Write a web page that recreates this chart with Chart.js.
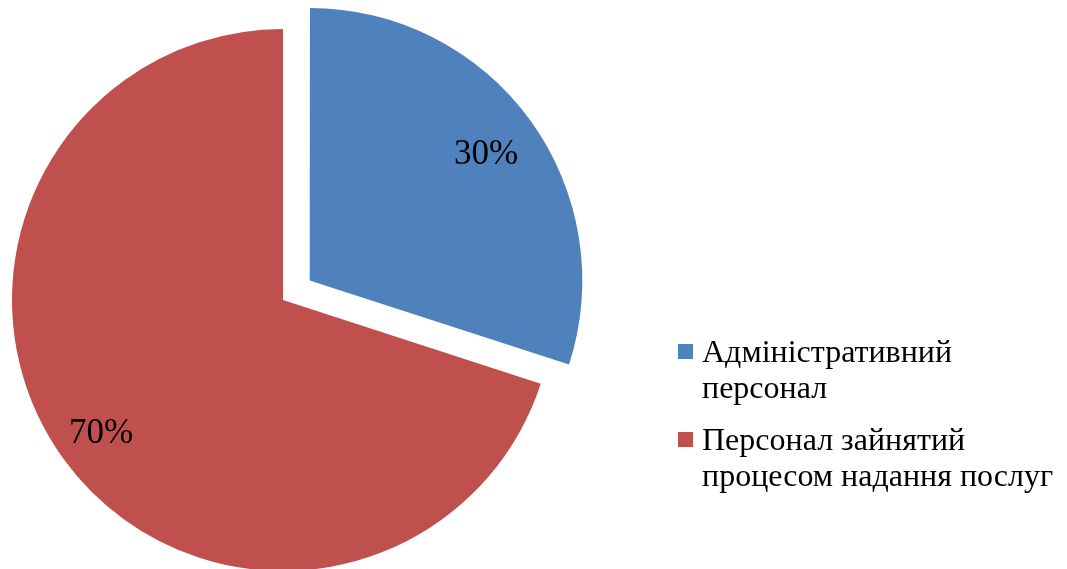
<!DOCTYPE html>
<html>
<head>
<meta charset="utf-8">
<script src="https://cdn.jsdelivr.net/npm/chart.js@4.4.1/dist/chart.umd.min.js"></script>
<style>
  html, body { margin: 0; padding: 0; background: #fff; }
  #wrap { position: relative; width: 1067px; height: 569px; overflow: hidden; }
  #c { position: absolute; left: 0; top: 0; }
  #legend { position: absolute; left: 678px; top: 333px; font-family: 'Liberation Serif', 'Times New Roman', serif; font-size: 32px; color: #000; white-space: nowrap; }
  .item { position: relative; padding-left: 24px; line-height: 36px; margin-bottom: 16px; }
  .box { position: absolute; left: 0; top: 11px; width: 15px; height: 15px; }
</style>
</head>
<body>
<div id="wrap">
  <canvas id="c" width="1067" height="569"></canvas>
  <div id="legend"></div>
</div>
<script>
const categories = ["Адміністративний персонал", "Персонал зайнятий процесом надання послуг"];
const legendLines = [["Адміністративний", "персонал"], ["Персонал зайнятий", "процесом надання послуг"]];
const shares = [30, 70];
const pctLabels = ["30%", "70%"];
const colors = ["#4F81BD", "#C0504D"];
const explodePx = [33, 0];

const labelPlugin = {
  id: 'pctLabels',
  afterDatasetsDraw(chart) {
    const ctx = chart.ctx;
    const meta = chart.getDatasetMeta(0);
    ctx.save();
    ctx.font = '35px "Liberation Serif", "Times New Roman", serif';
    ctx.fillStyle = '#000';
    ctx.textAlign = 'center';
    ctx.textBaseline = 'middle';
    meta.data.forEach((arc, i) => {
      const p = arc.getProps(['x', 'y', 'startAngle', 'endAngle', 'outerRadius'], true);
      const mid = (p.startAngle + p.endAngle) / 2;
      const shift = explodePx[i];
      const k = i === 0 ? 0.805 : 0.83;
      const x = p.x + Math.cos(mid) * (shift + p.outerRadius * k);
      const y = p.y + Math.sin(mid) * (shift + p.outerRadius * k) + 2;
      ctx.fillText(pctLabels[i], x, y);
    });
    ctx.restore();
  }
};

new Chart(document.getElementById('c'), {
  type: 'pie',
  data: {
    labels: categories,
    datasets: [{
      data: shares,
      backgroundColor: colors,
      borderWidth: 0,
      offset: explodePx.map(v => v * 4),
      clip: false
    }]
  },
  options: {
    responsive: false,
    animation: false,
    radius: 271,
    layout: { padding: { left: 0, right: 501, top: 31, bottom: 0 } },
    plugins: { legend: { display: false }, tooltip: { enabled: false } }
  },
  plugins: [labelPlugin]
});

const lg = document.getElementById('legend');
legendLines.forEach((lines, i) => {
  const d = document.createElement('div');
  d.className = 'item';
  const b = document.createElement('span');
  b.className = 'box';
  b.style.background = colors[i];
  d.appendChild(b);
  lines.forEach((t, j) => {
    if (j) d.appendChild(document.createElement('br'));
    d.appendChild(document.createTextNode(t));
  });
  lg.appendChild(d);
});
</script>
</body>
</html>
